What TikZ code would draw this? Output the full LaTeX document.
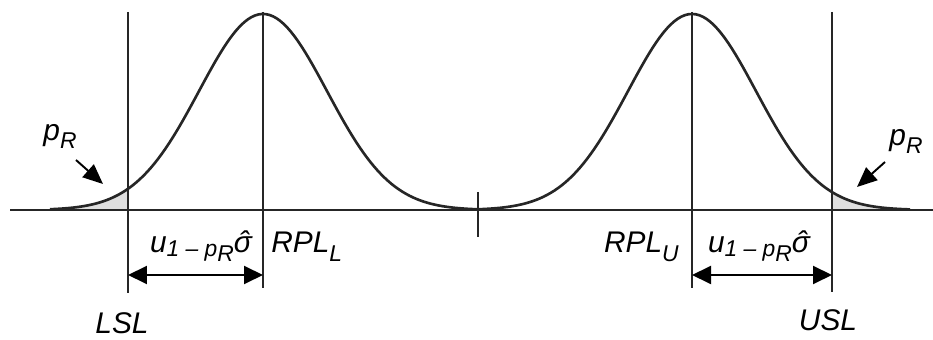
\documentclass[tikz,border=0pt]{standalone}
\usepackage{fontspec}
\setmainfont{Liberation Sans}
\usetikzlibrary{arrows.meta, positioning, calc}

% lowered, smaller index
\newcommand{\lo}[2][4pt]{\raisebox{-#1}{\fontsize{13}{15}\selectfont #2}}
\newcommand{\pR}{p\lo[4pt]{R}}
\newcommand{\sighat}{\ooalign{σ\cr\hidewidth\kern0.08em\char"02C6\hidewidth\cr}}

\begin{document}
\begin{tikzpicture}[
  x=0.02cm, y=-0.02cm,
  axis/.style={line width=1.1pt, black!85},
  curve/.style={line width=1.5pt, black!85},
  tail/.style={fill=gray!25},
  lbl/.style={font=\fontsize{17}{20}\selectfont\itshape, inner sep=0pt},
  pointer/.style={line width=1.1pt, -{Triangle[length=4mm, width=3.4mm]}},
  span/.style={line width=1.1pt, {Triangle[length=3.8mm, width=3.6mm]}-{Triangle[length=3.8mm, width=3.6mm]}},
]
\useasboundingbox (0,0) rectangle (933,340);

% shaded tails
\fill[tail] (50,210) -- plot[domain=50:128, samples=40] (\x, {210-196*exp(-((\x-263)/64)^2/2)}) -- (128,210) -- cycle;
\fill[tail] (832,210) -- plot[domain=832:910, samples=40] (\x, {210-196*exp(-((\x-692)/64)^2/2)}) -- (910,210) -- cycle;

% axis and centre tick
\coordinate (A0) at (10,210);
\coordinate (A1) at (933,210);
\draw[axis] (A0) -- (A1);
\coordinate (M0) at (478,192);
\coordinate (M1) at (478,237);
\draw[axis] (M0) -- (M1);

% limits
\coordinate (LSLt) at (128,12);  \coordinate (LSLb) at (128,293);
\coordinate (RPLLt) at (263,12); \coordinate (RPLLb) at (263,288);
\coordinate (RPLUt) at (692,12); \coordinate (RPLUb) at (692,288);
\coordinate (USLt) at (832,12);  \coordinate (USLb) at (832,292);
\draw[axis] (LSLt) -- (LSLb);
\draw[axis] (RPLLt) -- (RPLLb);
\draw[axis] (RPLUt) -- (RPLUb);
\draw[axis] (USLt) -- (USLb);

% density curves
\draw[curve] plot[domain=50:478, samples=120] (\x, {210-196*exp(-((\x-263)/64)^2/2)});
\draw[curve] plot[domain=478:910, samples=120] (\x, {210-196*exp(-((\x-692)/64)^2/2)});

% labels
\node[lbl, anchor=base] (pRL) at (60,141) {\pR};
\node[lbl, anchor=base] (pRU) at (906,146) {\pR};
\node[lbl, anchor=base] (LSL) at (122,334) {LSL};
\node[lbl, anchor=base] (USL) at (828,331) {USL};
\node[lbl, anchor=base west] (RPLL) at (271,253) {RPL\lo[5pt]{L}};
\node[lbl, anchor=base east] (RPLU) at (679,253) {RPL\lo[5pt]{U}};
\node[lbl, anchor=base] (uL) at (201,253) {u\lo[2pt]{1 – p\lo[3pt]{R}}\sighat};
\node[lbl, anchor=base] (uU) at (759,253) {u\lo[2pt]{1 – p\lo[3pt]{R}}\sighat};

% arrows
\coordinate (tailL) at (76,160);  \coordinate (tipL) at (103,184);
\coordinate (tailU) at (885,162); \coordinate (tipU) at (857,187);
\draw[pointer] (tailL) -- (tipL);
\draw[pointer] (tailU) -- (tipU);

\coordinate (dL0) at (128,275); \coordinate (dL1) at (263,275);
\coordinate (dU0) at (692,275); \coordinate (dU1) at (832,275);
\draw[span] (dL0) -- (dL1);
\draw[span] (dU0) -- (dU1);
\end{tikzpicture}
\end{document}
